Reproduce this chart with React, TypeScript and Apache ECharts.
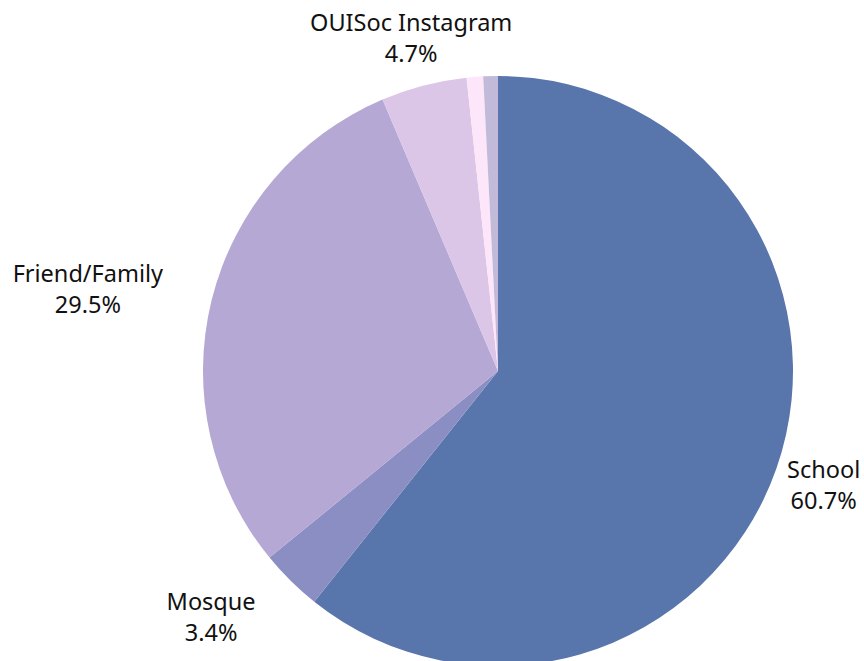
import React, { useEffect, useRef } from "react";
import * as echarts from "echarts";

const categories = ["School", "Mosque", "Friend/Family", "OUISoc Instagram", "Other", "Unknown"];
const values = [60.7, 3.4, 29.5, 4.7, 0.9, 0.8];
const colors = ["#5875ac", "#8a8ec3", "#b5a8d4", "#dcc6e8", "#fde6f9", "#c2bad9"];
const showLabel = [true, true, true, true, false, false];
// how each label sits on its anchor point: centred on it, or its edge on it
const labelAnchor = ["center", "edge", "edge", "center", "edge", "edge"];

const CX = 498;
const CY = 371;

export default function App() {
  const ref = useRef<HTMLDivElement>(null);
  useEffect(() => {
    document.body.style.margin = "0";
    const chart = echarts.init(ref.current!, null, { renderer: "svg" });
    chart.setOption({
      animation: false,
      backgroundColor: "#ffffff",
      series: [
        {
          type: "pie",
          center: [CX, CY],
          radius: 295,
          startAngle: 90,
          clockwise: true,
          avoidLabelOverlap: false,
          data: categories.map((name, i) => ({
            name,
            value: values[i],
            itemStyle: { color: colors[i] },
            label: { show: showLabel[i] },
          })),
          label: {
            position: "outside",
            distanceToLabelLine: 0,
            formatter: (p: any) => `{n|${p.name}}\n{n|${Number(p.value).toFixed(1)}%}`,
            rich: {
              n: {
                align: "center",
                fontFamily: "Noto Sans",
                fontSize: 23.5,
                lineHeight: 31,
                color: "#111111",
              },
            },
          },
          labelLine: { show: false, length: 50, length2: 0 },
          labelLayout: (params: any) => {
            if (labelAnchor[params.dataIndex] !== "center") return {};
            const r = params.labelRect;
            const rightSide = r.x + r.width / 2 > CX;
            return { dx: rightSide ? -r.width / 2 : r.width / 2 };
          },
          emphasis: { disabled: true },
        },
      ],
    });
    return () => chart.dispose();
  }, []);
  return <div ref={ref} style={{ width: 864, height: 661 }} />;
}
